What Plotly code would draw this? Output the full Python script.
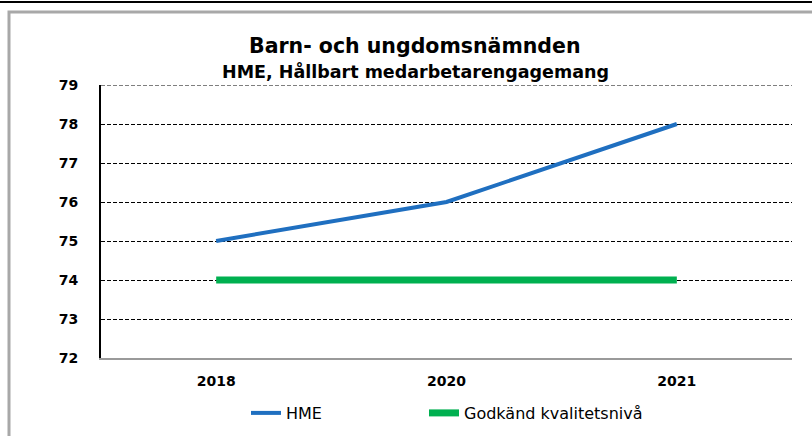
import plotly.graph_objects as go

years = ["2018", "2020", "2021"]
hme = [75, 76, 78]
godkand = [74, 74, 74]
y_ticks = [72, 73, 74, 75, 76, 77, 78, 79]

title = "Barn- och ungdomsnämnden"
subtitle = "HME, Hållbart medarbetarengagemang"

FONT = "DejaVu Sans, Arial, sans-serif"
PH = 273  # plot height px
PW = 691

def py(px):
    return 1 + (85 - px) / PH

def pxx(px):
    return (px - 101) / PW

fig = go.Figure()
fig.add_trace(go.Scatter(x=years, y=hme, mode="lines", name="HME", legend="legend",
                         line=dict(color="#1f6fc0", width=4)))
fig.add_trace(go.Scatter(x=years, y=godkand, mode="lines", name="Godkänd kvalitetsnivå",
                         legend="legend2", line=dict(color="#00b050", width=7)))

leg_common = dict(orientation="h", xanchor="left", y=py(413), yanchor="middle",
                  font=dict(size=16, family=FONT), bgcolor="rgba(0,0,0,0)")

fig.update_layout(
    width=812, height=436,
    margin=dict(l=101, r=20, t=85, b=78, autoexpand=False),
    paper_bgcolor="white", plot_bgcolor="white",
    font=dict(family=FONT, color="black"),
    showlegend=True,
    legend=dict(x=pxx(246), **leg_common),
    legend2=dict(x=pxx(424), **leg_common),
    xaxis=dict(type="category", range=[-0.5, 2.5], showgrid=False,
               showline=True, linecolor="#9a9a9a", linewidth=2,
               ticks="", ticklabelstandoff=9, automargin=False,
               tickfont=dict(size=14, family=FONT, weight="bold")),
    yaxis=dict(range=[72, 79], tickvals=y_ticks, showgrid=True,
               gridcolor="black", griddash="4px,2px", gridwidth=1,
               showline=True, linecolor="black", linewidth=2,
               ticks="", ticklabelstandoff=18, zeroline=False, automargin=False,
               tickfont=dict(size=14, family=FONT, weight="bold")),
    annotations=[
        dict(text="<b>" + title + "</b>", x=pxx(415), y=py(46), xref="paper", yref="paper",
             showarrow=False, font=dict(size=20.5, family=FONT), xanchor="center", yanchor="middle"),
        dict(text="<b>" + subtitle + "</b>", x=pxx(415), y=py(72), xref="paper", yref="paper",
             showarrow=False, font=dict(size=17.5, family=FONT), xanchor="center", yanchor="middle"),
    ],
    shapes=[
        dict(type="line", xref="paper", yref="paper", x0=-0.2, x1=1.1, y0=py(2), y1=py(2),
             line=dict(color="black", width=2)),
        dict(type="rect", xref="paper", yref="paper", x0=pxx(9), x1=1.1,
             y0=-0.5, y1=py(12), line=dict(color="#a8a8a8", width=3)),
    ],
)
fig.add_shape(type="line", xref="paper", yref="y", x0=0, x1=1, y0=79, y1=79,
              line=dict(color="black", width=1, dash="4px,2px"))

fig.write_html("out.html", config={"displayModeBar": False},
               post_script="document.body.style.margin='0';")
